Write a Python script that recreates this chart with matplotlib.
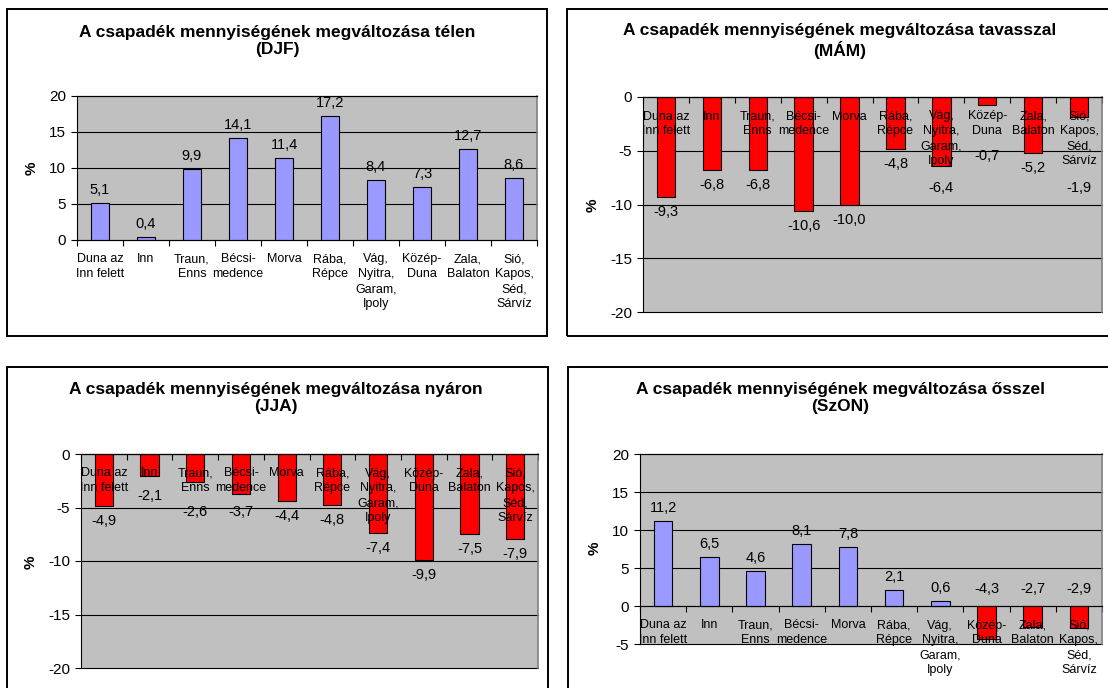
import matplotlib
matplotlib.use("Agg")
import matplotlib.pyplot as plt
import numpy as np
from matplotlib.patches import Rectangle

plt.rcParams['font.family'] = ['Liberation Sans', 'DejaVu Sans']
plt.rcParams['axes.unicode_minus'] = False

W, H = 1108, 688

categories = ["Duna az\nInn felett", "Inn", "Traun,\nEnns", "Bécsi-\nmedence", "Morva",
              "Rába,\nRépce", "Vág,\nNyitra,\nGaram,\nIpoly", "Közép-\nDuna",
              "Zala,\nBalaton", "Sió,\nKapos,\nSéd,\nSárvíz"]

djf = [5.1, 0.4, 9.9, 14.1, 11.4, 17.2, 8.4, 7.3, 12.7, 8.6]
mam = [-9.3, -6.8, -6.8, -10.6, -10.0, -4.8, -6.4, -0.7, -5.2, -1.9]
jja = [-4.9, -2.1, -2.6, -3.7, -4.4, -4.8, -7.4, -9.9, -7.5, -7.9]
szon = [11.2, 6.5, 4.6, 8.1, 7.8, 2.1, 0.6, -4.3, -2.7, -2.9]

title_base = "A csapadék mennyiségének megváltozása"
season_titles = [f"{title_base} télen\n(DJF)", f"{title_base} tavasszal\n(MÁM)",
                 f"{title_base} nyáron\n(JJA)", f"{title_base} ősszel\n(SzON)"]

BLUE = '#9999FF'
RED = '#FF0000'
PLOT_BG = '#C0C0C0'

# category label layout, in pixels below the zero line
CAT_TOP = 13.5
CAT_FIRST = 19
CAT_PITCH = 16.5


def fig_rect(x0, y0, x1, y1):
    # pixel box (top-left origin) -> figure fraction rect
    return [x0 / W, 1 - y1 / H, (x1 - x0) / W, (y1 - y0) / H]


def draw_panel(fig, values, title, frame, plot, ylim, title_xy, pct_xy,
               neg_labels_above=False):
    # chart-area border
    x0, y0, x1, y1 = frame
    fig.patches.append(Rectangle((x0 / W, 1 - y1 / H), (x1 - x0) / W, (y1 - y0) / H,
                                 transform=fig.transFigure, fill=False,
                                 edgecolor='black', linewidth=1.4))

    ax = fig.add_axes(fig_rect(*plot))
    ax.set_facecolor(PLOT_BG)
    x = np.arange(len(values))
    colors = [BLUE if v >= 0 else RED for v in values]
    ax.bar(x, values, width=0.4, color=colors, edgecolor='black', linewidth=0.8, zorder=2)

    ax.set_xlim(-0.5, len(values) - 0.5)
    ax.set_ylim(*ylim)
    ax.set_yticks(np.arange(ylim[0], ylim[1] + 1, 5))
    ax.yaxis.grid(True, color='black', linewidth=0.8)
    for gl in ax.get_ygridlines():
        gl.set_clip_on(False)
    ax.set_axisbelow(True)

    ax.spines['left'].set_color('black')
    ax.spines['top'].set_color('black')
    ax.spines['right'].set_color('#808080')
    ax.spines['right'].set_linewidth(1.2)
    ax.spines['bottom'].set_position(('data', 0))
    ax.spines['bottom'].set_color('black')

    ax.set_xticks(np.arange(-0.5, len(values), 1))
    ax.set_xticklabels([])
    ax.tick_params(axis='x', direction='out', length=4, width=0.8)
    ax.tick_params(axis='y', direction='out', length=4, width=0.8, labelsize=11, pad=4)

    for i, lab in enumerate(categories):
        ax.annotate(lab, (i, 0), xytext=(0, -CAT_TOP), textcoords='offset pixels',
                    ha='center', va='top', fontsize=9, linespacing=1.32,
                    zorder=5, annotation_clip=False)

    ppu = (plot[3] - plot[1]) / (ylim[1] - ylim[0])
    for i, v in enumerate(values):
        txt = f"{v:.1f}".replace('.', ',')
        if v >= 0:
            xy, dy = (i, v), 13
        elif neg_labels_above:
            xy, dy = (i, 0), 17
        else:
            # keep the value clear of the category text hanging under the axis
            n_lines = categories[i].count('\n') + 1
            last_line = CAT_FIRST + (n_lines - 1) * CAT_PITCH
            xy, dy = (i, 0), -max(-v * ppu + 15, last_line + 23)
        ax.annotate(txt, xy, xytext=(0, dy), textcoords='offset pixels',
                    ha='center', va='center', fontsize=10.5, zorder=5,
                    annotation_clip=False)

    fig.text(title_xy[0] / W, 1 - title_xy[1] / H, title, ha='center', va='center',
             fontsize=12.5, fontweight='bold', linespacing=1.15)
    fig.text(pct_xy[0] / W, 1 - pct_xy[1] / H, '%', rotation=90, ha='center',
             va='center', fontsize=11, fontweight='bold')
    return ax


fig = plt.figure(figsize=(W / 100, H / 100), dpi=100)
fig.patch.set_facecolor('white')

draw_panel(fig, djf, season_titles[0], frame=(7, 9, 547, 336), plot=(77, 96, 537, 240),
           ylim=(0, 20), title_xy=(277, 41), pct_xy=(32, 168))
draw_panel(fig, mam, season_titles[1], frame=(567, 9, 1118, 336), plot=(643, 97, 1102, 312),
           ylim=(-20, 0), title_xy=(840, 41), pct_xy=(593, 205))
draw_panel(fig, jja, season_titles[2], frame=(7, 367, 548, 700), plot=(81, 454, 538, 668),
           ylim=(-20, 0), title_xy=(276, 398), pct_xy=(31, 562))
draw_panel(fig, szon, season_titles[3], frame=(568, 367, 1118, 700), plot=(640, 454, 1102, 644),
           ylim=(-5, 20), title_xy=(840, 398), pct_xy=(595, 548), neg_labels_above=True)

fig.savefig('out.png', dpi=100)
